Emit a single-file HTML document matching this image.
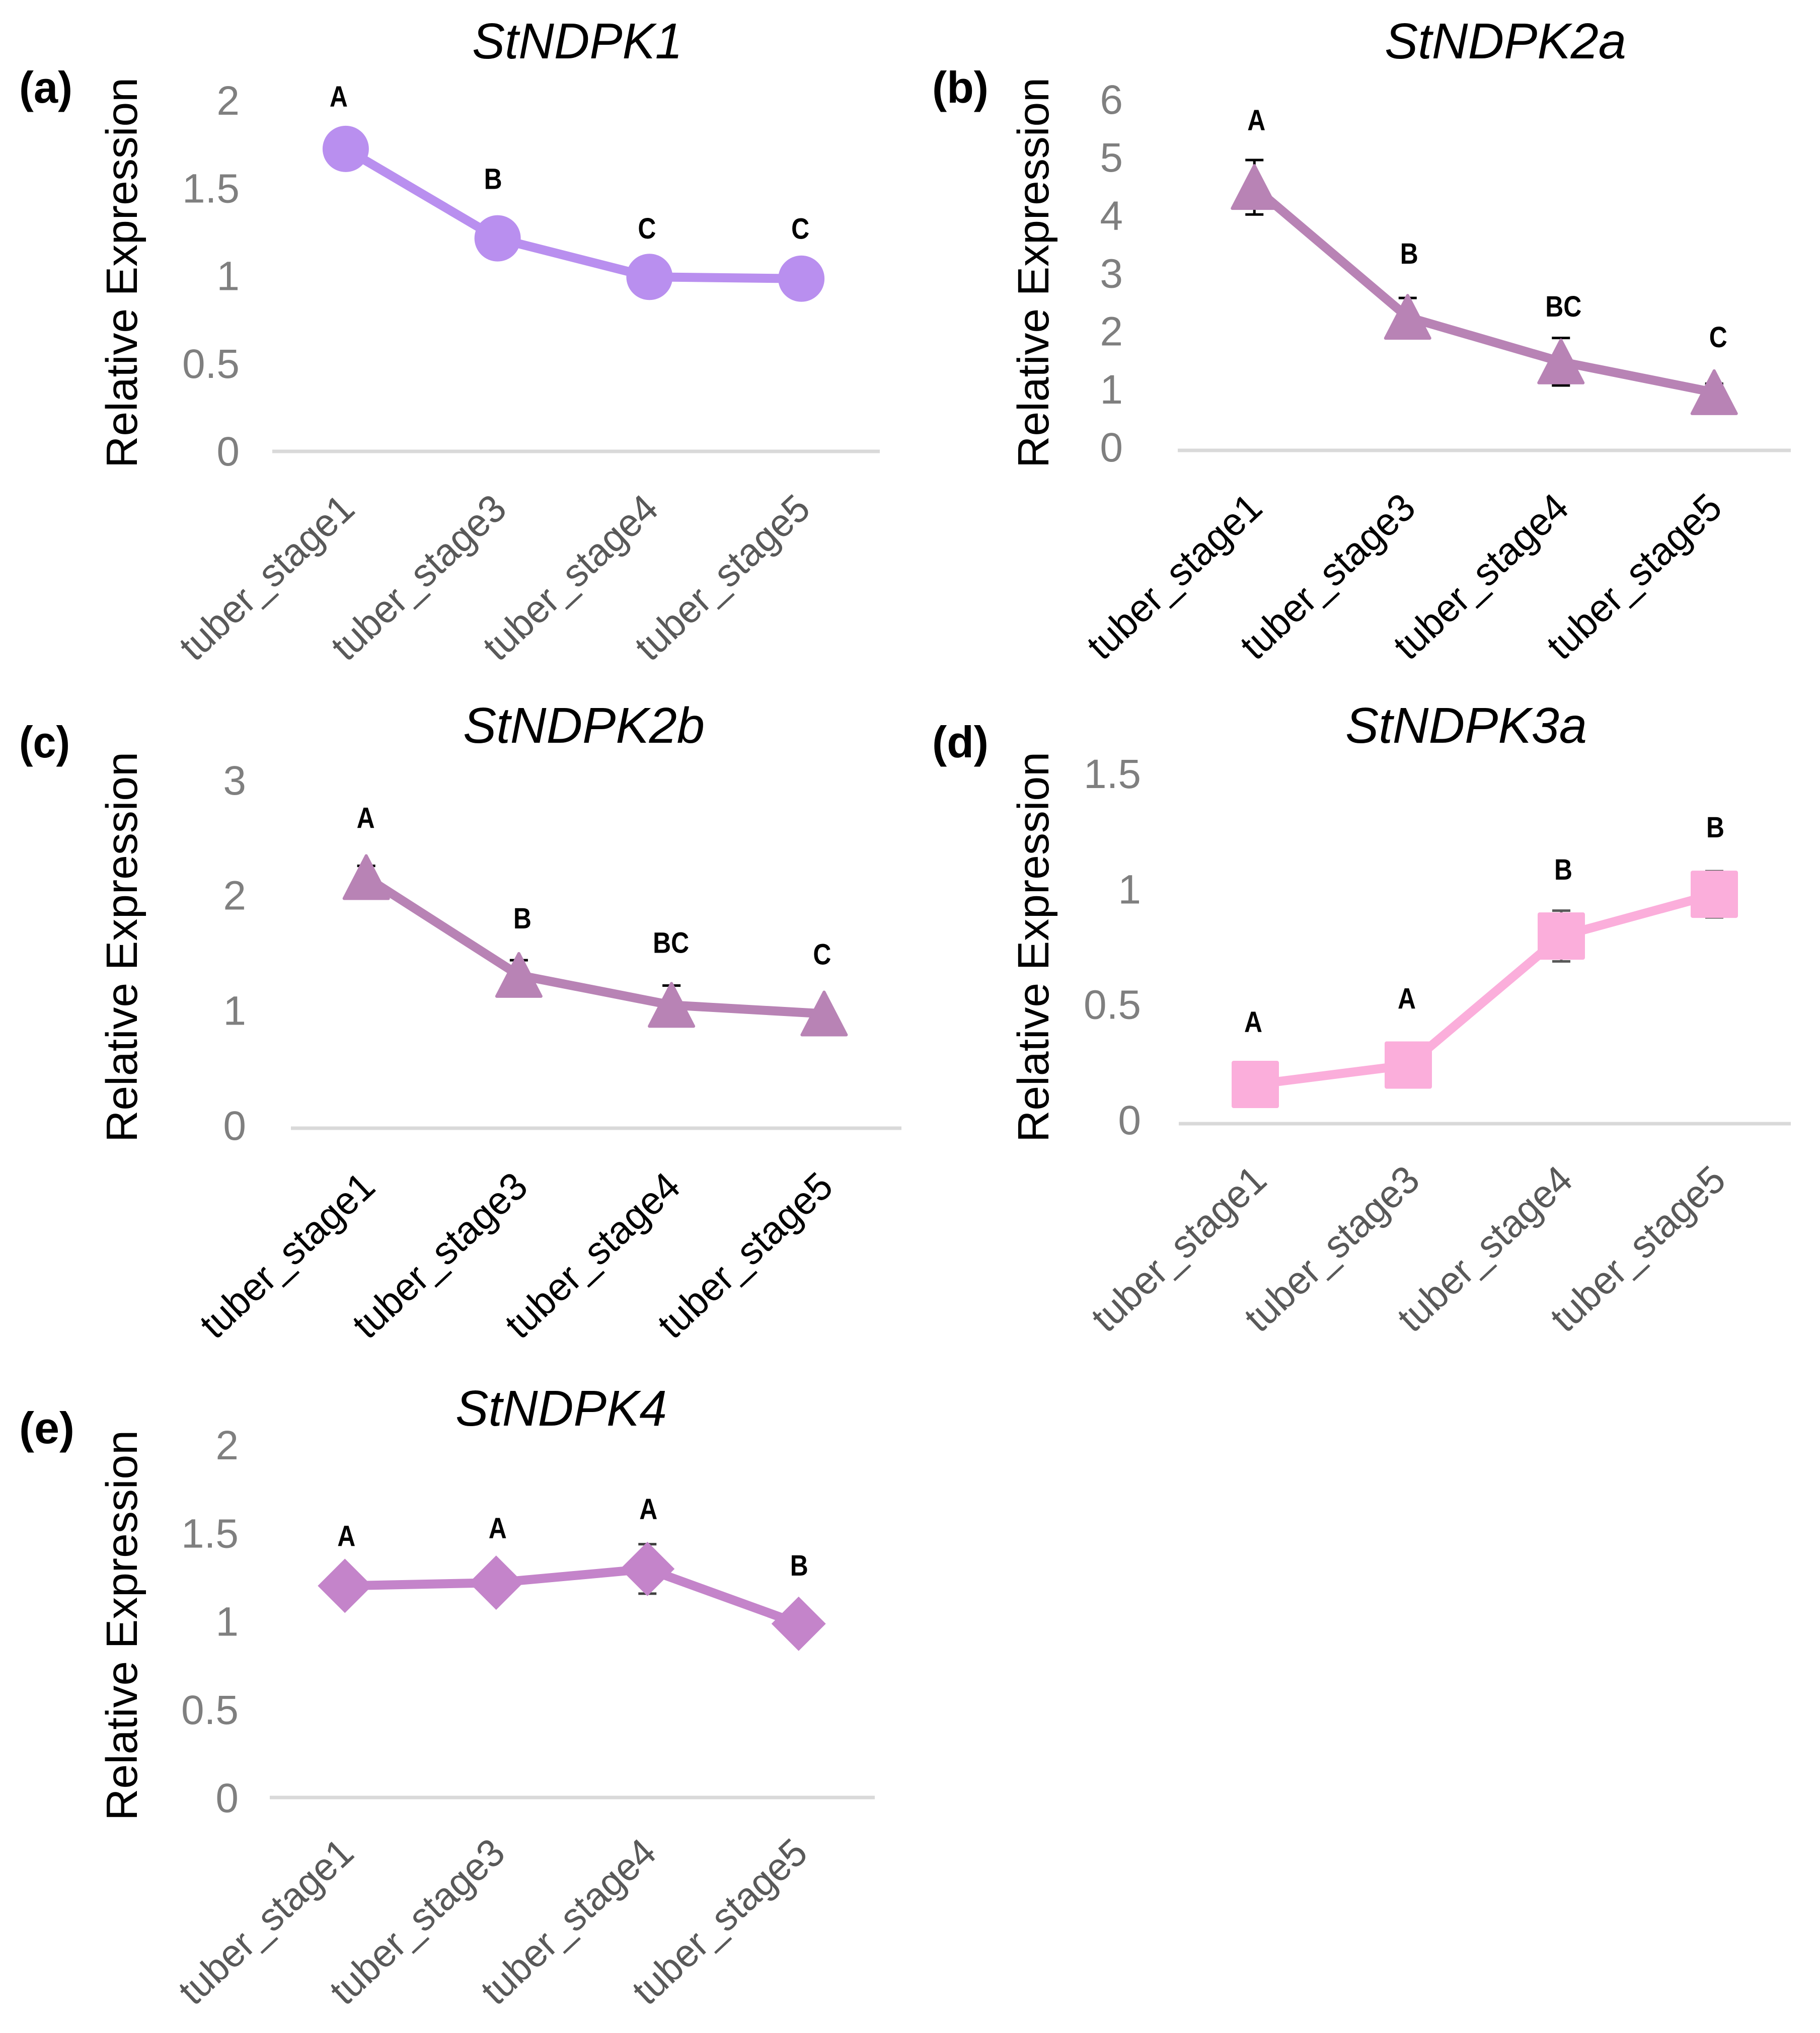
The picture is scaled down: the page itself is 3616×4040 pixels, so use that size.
<!DOCTYPE html>
<html lang="en">
<head>
<meta charset="utf-8">
<title>StNDPK relative expression across tuber stages</title>
<style>
html,body{margin:0;padding:0;background:#fff;}
svg{display:block;}
text{font-family:"Liberation Sans",sans-serif;}
.panel-label{font-weight:700;font-size:88px;fill:#000;}
.chart-title{font-style:italic;font-size:100px;fill:#000;}
.y-title{font-size:87px;fill:#000;}
</style>
</head>
<body>
<svg id="figure" xmlns="http://www.w3.org/2000/svg" width="3616" height="4040" viewBox="0 0 3616 4040">
  <rect x="0" y="0" width="3616" height="4040" fill="#ffffff"/>

  <g id="panel-a">
    <text class="panel-label" x="38" y="204" textLength="106" lengthAdjust="spacingAndGlyphs">(a)</text>
    <text class="chart-title" x="938" y="116" textLength="418" lengthAdjust="spacingAndGlyphs">StNDPK1</text>
    <text class="y-title" transform="translate(272 930) rotate(-90)" textLength="776" lengthAdjust="spacingAndGlyphs">Relative Expression</text>
  </g>
  <g id="panel-b">
    <text class="panel-label" x="1852" y="204" textLength="112" lengthAdjust="spacingAndGlyphs">(b)</text>
    <text class="chart-title" x="2751" y="116" textLength="480" lengthAdjust="spacingAndGlyphs">StNDPK2a</text>
    <text class="y-title" transform="translate(2083 930) rotate(-90)" textLength="776" lengthAdjust="spacingAndGlyphs">Relative Expression</text>
  </g>
  <g id="panel-c">
    <text class="panel-label" x="38" y="1505" textLength="101" lengthAdjust="spacingAndGlyphs">(c)</text>
    <text class="chart-title" x="920" y="1476" textLength="480" lengthAdjust="spacingAndGlyphs">StNDPK2b</text>
    <text class="y-title" transform="translate(272 2270) rotate(-90)" textLength="776" lengthAdjust="spacingAndGlyphs">Relative Expression</text>
  </g>
  <g id="panel-d">
    <text class="panel-label" x="1852" y="1505" textLength="112" lengthAdjust="spacingAndGlyphs">(d)</text>
    <text class="chart-title" x="2673" y="1476" textLength="480" lengthAdjust="spacingAndGlyphs">StNDPK3a</text>
    <text class="y-title" transform="translate(2083 2270) rotate(-90)" textLength="776" lengthAdjust="spacingAndGlyphs">Relative Expression</text>
  </g>
  <g id="panel-e">
    <text class="panel-label" x="38" y="2868" textLength="110" lengthAdjust="spacingAndGlyphs">(e)</text>
    <text class="chart-title" x="905" y="2833" textLength="420" lengthAdjust="spacingAndGlyphs">StNDPK4</text>
    <text class="y-title" transform="translate(272 3618) rotate(-90)" textLength="776" lengthAdjust="spacingAndGlyphs">Relative Expression</text>
  </g>
</svg>

<script>
// ---- chart data ----
const categories = ["tuber_stage1", "tuber_stage3", "tuber_stage4", "tuber_stage5"];

const ticksA = ["0", "0.5", "1", "1.5", "2"];
const valuesA = [1.725, 1.215, 0.995, 0.985];
const errorsA = [0, 0, 0, 0];
const lettersA = ["A", "B", "C", "C"];

const ticksB = ["0", "1", "2", "3", "4", "5", "6"];
const valuesB = [4.54, 2.3, 1.53, 1.0];
const errorsB = [0.47, 0.33, 0.41, 0.15];
const lettersB = ["A", "B", "BC", "C"];

const ticksC = ["0", "1", "2", "3"];
const valuesC = [2.18, 1.33, 1.07, 0.995];
const errorsC = [0.1, 0.13, 0.17, 0];
const lettersC = ["A", "B", "BC", "C"];

const ticksD = ["0", "0.5", "1", "1.5"];
const valuesD = [0.17, 0.254, 0.813, 0.994];
const errorsD = [0, 0, 0.11, 0.1];
const lettersD = ["A", "A", "B", "B"];

const ticksE = ["0", "0.5", "1", "1.5", "2"];
const valuesE = [1.2, 1.218, 1.296, 0.985];
const errorsE = [0, 0, 0.14, 0];
const lettersE = ["A", "A", "A", "B"];

// ---- panel layout (pixels / styling only) ----
const panels = [
  {id:"a", ticks:ticksA, values:valuesA, errors:errorsA, letters:lettersA, left:541, right:1748, base:897, top:200, off:-5,
   tickX:476, tickShift:-1, color:"#B98FEF", marker:"circle", catColor:"#595959", errColor:"#404040", catDx:-10, catDy:8,
   nudgeX:[-14,-9,-5,-2], nudgeY:[105,119,97,100]},
  {id:"b", ticks:ticksB, values:valuesB, errors:errorsB, letters:lettersB, left:2340, right:3558, base:895, top:204, off:0,
   tickX:2231, tickShift:-7, color:"#B883B5", marker:"triangle", catColor:"#000000", errColor:"#000000", catDx:-12, catDy:8,
   nudgeX:[4,3,5,8], nudgeY:[134,127,111,111]},
  {id:"c", ticks:ticksC, values:valuesC, errors:errorsC, letters:lettersC, left:578, right:1791, base:2242, top:1556, off:-2,
   tickX:489, tickShift:-6, color:"#B883B5", marker:"triangle", catColor:"#000000", errColor:"#000000", catDx:-10, catDy:10,
   nudgeX:[-1,7,-1,-4], nudgeY:[119,114,125,119]},
  {id:"d", ticks:ticksD, values:valuesD, errors:errorsD, letters:lettersD, left:2342, right:3558, base:2233, top:1545, off:0,
   tickX:2267, tickShift:-8, color:"#FBAEDB", marker:"square", catColor:"#595959", errColor:"#595959", catDx:-5, catDy:6,
   nudgeX:[-4,-3,4,2], nudgeY:[125,133,133,134]},
  {id:"e", ticks:ticksE, values:valuesE, errors:errorsE, letters:lettersE, left:536, right:1738, base:3572, top:2871, off:-1,
   tickX:474, tickShift:0, color:"#C484CA", marker:"diamond", catColor:"#595959", errColor:"#404040", catDx:-10, catDy:4,
   nudgeX:[3,3,2,1], nudgeY:[100,109,120,117]}
];

const SVGNS = "http://www.w3.org/2000/svg";

function make(tag, parent, attrs) {
  const node = document.createElementNS(SVGNS, tag);
  for (const key in attrs) node.setAttribute(key, attrs[key]);
  parent.appendChild(node);
  return node;
}

function drawPanel(p) {
  const root = document.getElementById("panel-" + p.id);
  const maxTick = Number(p.ticks[p.ticks.length - 1]);
  const band = (p.right - p.left) / categories.length;
  const xScale = i => p.left + (i + 0.5) * band + p.off;
  const yScale = v => p.base - (v / maxTick) * (p.base - p.top);

  // tick labels
  p.ticks.forEach(t => {
    const label = make("text", root, {x:p.tickX, y:yScale(Number(t)) + p.tickShift + 29, "text-anchor":"end", "font-size":82, fill:"#7F7F7F"});
    
    
    label.textContent = t;
  });

  // category axis line
  const axis = make("line", root, {x1:p.left, x2:p.right, y1:p.base, y2:p.base, stroke:"#D9D9D9", "stroke-width":7});
  
  

  // category labels
  categories.forEach((c, i) => {
    const ax = xScale(i) + 32 + p.catDx;
    const ay = p.base + 112 + p.catDy;
    const label = make("text", root, {x:0, y:0, transform:`translate(${ax} ${ay}) rotate(-43)`, "text-anchor":"end", "font-size":78, fill:p.catColor, textLength:440, lengthAdjust:"spacingAndGlyphs"});
    
    
    label.textContent = c;
  });

  // error bars
  p.values.forEach((v, i) => {
    const e = p.errors[i];
    if (!e) return;
    const g = make("g", root, {stroke:p.errColor, "stroke-width":5, fill:"none"});
    
    
    const x = xScale(i);
    make("line", g, {x1:x, x2:x, y1:yScale(v - e), y2:yScale(v + e)});
    make("line", g, {x1:x - 18, x2:x + 18, y1:yScale(v + e), y2:yScale(v + e)});
    make("line", g, {x1:x - 18, x2:x + 18, y1:yScale(v - e), y2:yScale(v - e)});
  });

  // series line
  const line = make("polyline", root, {
    points: p.values.map((v, i) => xScale(i) + "," + yScale(v)).join(" "),
    fill:"none", stroke:p.color, "stroke-width":18, "stroke-linejoin":"round"
  });
  
  

  // markers
  p.values.forEach((v, i) => {
    const x = xScale(i);
    const y = yScale(v);
    let mark;
    if (p.marker === "circle") {
      mark = make("circle", root, {cx:x, cy:y, r:46, fill:p.color});
    } else if (p.marker === "square") {
      mark = make("rect", root, {x:x - 46, y:y - 46, width:92, height:92, rx:3, fill:p.color, stroke:p.color, "stroke-width":2});
    } else if (p.marker === "triangle") {
      mark = make("polygon", root, {points:`${x},${y - 43} ${x + 44},${y + 42} ${x - 44},${y + 42}`, fill:p.color, stroke:p.color, "stroke-width":6, "stroke-linejoin":"round"});
    } else {
      mark = make("polygon", root, {points:`${x},${y - 54} ${x + 54},${y} ${x},${y + 54} ${x - 54},${y}`, fill:p.color});
    }
    
    
  });

  // significance letters
  p.letters.forEach((s, i) => {
    const label = make("text", root, {
      x:xScale(i) + p.nudgeX[i],
      y:yScale(p.values[i]) - p.nudgeY[i] + 21,
      "text-anchor":"middle", "font-size":58, "font-weight":700, fill:"#000000",
      textLength:s.length * 36, lengthAdjust:"spacingAndGlyphs"
    });
    
    
    label.textContent = s;
  });
}

panels.forEach(drawPanel);
</script>
</body>
</html>
